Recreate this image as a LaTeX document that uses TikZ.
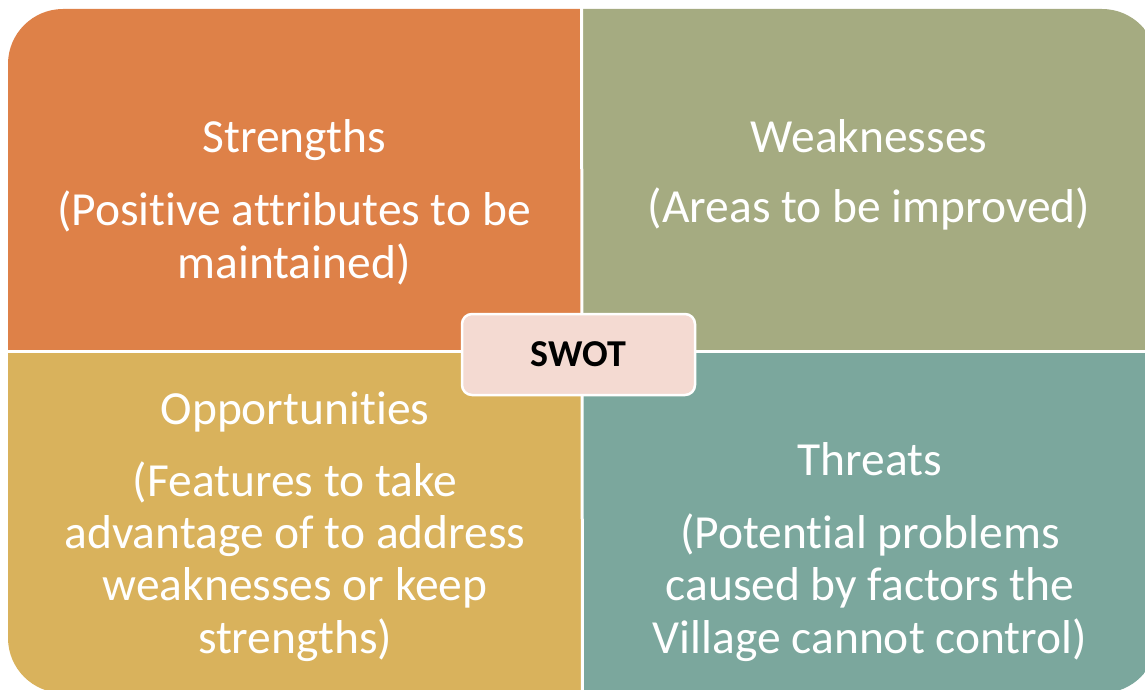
\documentclass[tikz,border=0pt]{standalone}
\usepackage{fontspec}
\setmainfont[Ligatures=NoCommon]{Carlito}
\definecolor{swotorange}{HTML}{DE8148}
\definecolor{swotolive}{HTML}{A5AB81}
\definecolor{swotgold}{HTML}{D9B25C}
\definecolor{swotteal}{HTML}{7BA79D}
\definecolor{swotpink}{HTML}{F4DAD2}
\tikzset{
  quadtitle/.style={text=white, anchor=base, inner sep=0pt,
    font=\fontsize{47.5}{52.3}\selectfont},
  % multi-line blocks: the base anchor sits on the last line's baseline
  quadbody/.style={text=white, anchor=base, inner sep=0pt, align=center,
    font=\fontsize{47.5}{52.3}\selectfont},
  centerbox/.style={draw=white, line width=2.5pt, fill=swotpink,
    rounded corners=10pt, font=\fontsize{38}{44}\selectfont\bfseries,
    text=black, minimum width=233pt, minimum height=81pt, inner sep=0pt},
  divider/.style={draw=white, line width=3pt}
}
\begin{document}
\begin{tikzpicture}[x=1pt, y=-1pt]
  \useasboundingbox (0,0) rectangle (1145,690);
  % four coloured quadrants inside one rounded frame
  \begin{scope}
    \clip[rounded corners=55pt] (8,9) rectangle (1157,693);
    \fill[swotorange] (0,0) rectangle (581.5,351.5);
    \fill[swotolive] (581.5,0) rectangle (1160,351.5);
    \fill[swotgold] (0,351.5) rectangle (581.5,700);
    \fill[swotteal] (581.5,351.5) rectangle (1160,700);
  \end{scope}
  % white separators between the quadrants
  \coordinate (vtop) at (581.5,0);
  \coordinate (vbot) at (582.5,700);
  \coordinate (hleft) at (0,351.5);
  \coordinate (hright) at (1160,351.5);
  \draw[divider] (vtop) -- (vbot);
  \draw[divider] (hleft) -- (hright);

  % quadrant texts
  \node[quadtitle] (stitle) at (294,153) {Strengths};
  \node[quadbody] (sbody) at (294,278) {(Positive attributes to be\\maintained)};
  \node[quadtitle] (wtitle) at (869,152) {Weaknesses};
  \node[quadbody] (wbody) at (869,222) {(Areas to be improved)};
  \node[quadtitle] (otitle) at (295,424) {Opportunities};
  \node[quadbody] (obody) at (295,653) {(Features to take\\advantage of to address\\weaknesses or keep\\strengths)};
  \node[quadtitle] (ttitle) at (870,475) {Threats};
  \node[quadbody] (tbody) at (870,653) {(Potential problems\\caused by factors the\\Village cannot control)};

  % central label
  \node[centerbox] (swot) at (578.5,354.5) {SWOT};
\end{tikzpicture}
\end{document}
